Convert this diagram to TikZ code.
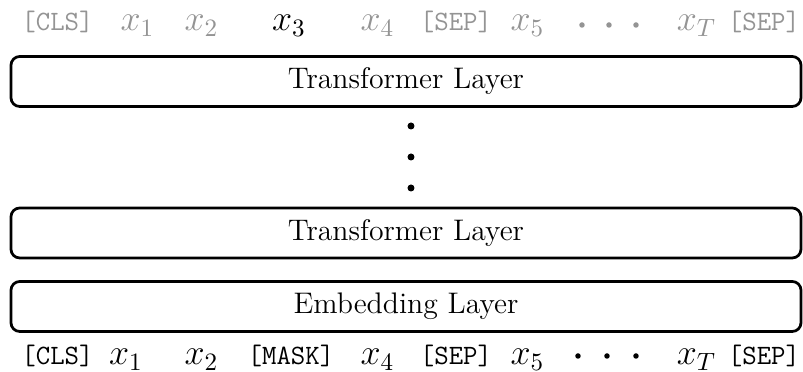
\documentclass[tikz,border=0pt]{standalone}
\begin{document}
\begin{tikzpicture}[x=0.4pt,y=-0.4pt,
  layer/.style={draw=black, line width=1.1pt, rounded corners=3.5pt, minimum width=316pt, minimum height=20pt, inner sep=0pt, font=\rmfamily\fontsize{11.9}{14}\selectfont},
  tok/.style={anchor=base, inner sep=0pt, font=\ttfamily\fontsize{11.2}{13}\selectfont},
  mtok/.style={anchor=base, inner sep=0pt, font=\Large},
  faded/.style={text=black!42},
  vdot/.style={circle, fill=black, inner sep=0pt, minimum size=2.8pt},
  hdot/.style={circle, fill=#1, inner sep=0pt, minimum size=2.2pt}]
\useasboundingbox (0,0) rectangle (803,372);
% top row (outputs)
\node[tok,faded]  (tcls) at (57.5,31) {[CLS]};
\node[mtok,faded] (tx1)  at (137.5,31) {$x_1$};
\node[mtok,faded] (tx2)  at (201.5,31) {$x_2$};
\node[mtok]       (tx3)  at (289,31) {$x_3$};
\node[mtok,faded] (tx4)  at (377.5,31) {$x_4$};
\node[tok,faded]  (tsep) at (456,31) {[SEP]};
\node[mtok,faded] (tx5)  at (527.5,31) {$x_5$};
\node[hdot=black!42] (td1) at (582,25) {};
\node[hdot=black!42] (td2) at (609,25) {};
\node[hdot=black!42] (td3) at (636,25) {};
\node[mtok,faded] (txT)  at (696.5,31) {$x_T$};
\node[tok,faded]  (tsep2) at (764,31) {[SEP]};
% layers
\node[layer] (tl1) at (406,81.5) {Transformer Layer};
\node[vdot] (vd1) at (411,126) {};
\node[vdot] (vd2) at (411,157) {};
\node[vdot] (vd3) at (411,188) {};
\node[layer] (tl2) at (406,233) {Transformer Layer};
\node[layer] (emb) at (406,306.5) {Embedding Layer};
% bottom row (inputs)
\node[tok]  (bcls) at (57.5,365) {[CLS]};
\node[mtok] (bx1)  at (126,365) {$x_1$};
\node[mtok] (bx2)  at (201.5,365) {$x_2$};
\node[tok]  (bmask) at (291,365) {[MASK]};
\node[mtok] (bx4)  at (377.5,365) {$x_4$};
\node[tok]  (bsep) at (456,365) {[SEP]};
\node[mtok] (bx5)  at (527.5,365) {$x_5$};
\node[hdot=black] (bd1) at (578,356) {};
\node[hdot=black] (bd2) at (607,356) {};
\node[hdot=black] (bd3) at (636,356) {};
\node[mtok] (bxT)  at (696.5,365) {$x_T$};
\node[tok]  (bsep2) at (764,365) {[SEP]};
\end{tikzpicture}
\end{document}
